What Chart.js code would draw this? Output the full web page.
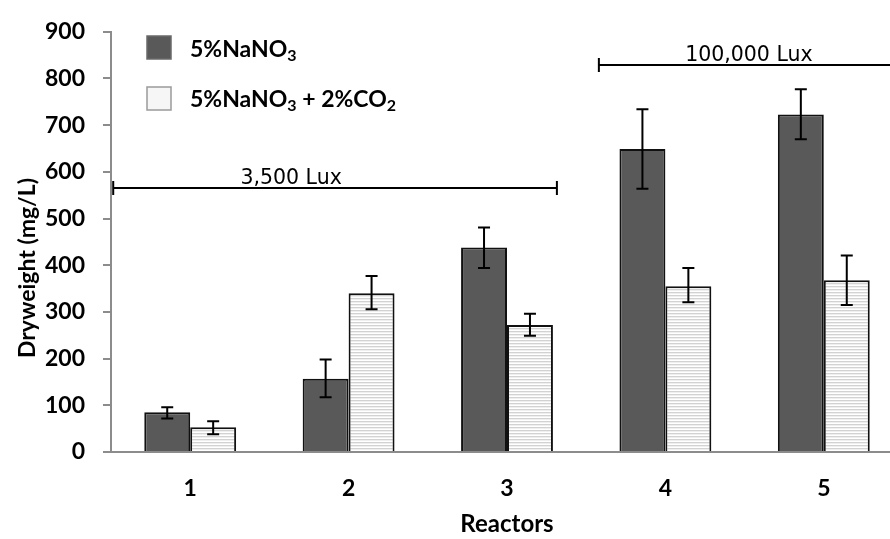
<!DOCTYPE html>
<html>
<head>
<meta charset="utf-8">
<script src="https://cdn.jsdelivr.net/npm/chart.js@4/dist/chart.umd.min.js"></script>
<style>
  html, body { margin: 0; padding: 0; background: #fff; overflow: hidden; }
  #wrap { position: relative; width: 910px; height: 539px; }
</style>
</head>
<body>
<div id="wrap"><canvas id="chart"></canvas></div>
<script>
// data
const reactors = ['1', '2', '3', '4', '5'];
const nano3 = [85, 157, 438, 649, 723];
const nano3Low = [72, 117, 394, 564, 670];
const nano3High = [96, 198, 481, 734, 777];
const nanoCo2 = [53, 340, 272, 355, 368];
const nanoCo2Low = [38, 306, 249, 321, 315];
const nanoCo2High = [66, 377, 296, 394, 421];
const yTicks = [0, 100, 200, 300, 400, 500, 600, 700, 800, 900];

// light intensity brackets (x in category index units, y in mg/L)
const luxLabels = ['3,500 Lux', '100,000 Lux'];
const luxFrom = [-0.486, 2.58];
const luxTo = [2.315, 5.3];
const luxLevel = [566, 828];
const luxTextAt = [0.637, 3.527];

const DARK = '#595959';

function stripePattern() {
    const c = document.createElement('canvas');
    c.width = 4; c.height = 3;
    const g = c.getContext('2d');
    g.fillStyle = '#ffffff'; g.fillRect(0, 0, 4, 3);
    g.fillStyle = '#d2d2d2'; g.fillRect(0, 1, 4, 1);
    g.fillStyle = '#efefef'; g.fillRect(0, 2, 4, 1);
    return g.createPattern(c, 'repeat');
}
const LIGHT = stripePattern();

const errorBars = {
    id: 'errorBars',
    afterDatasetsDraw(chart) {
        const ctx = chart.ctx, y = chart.scales.y;
        const ranges = [[nano3Low, nano3High], [nanoCo2Low, nanoCo2High]];
        ctx.save();
        ctx.strokeStyle = '#000'; ctx.lineWidth = 2;
        ranges.forEach((r, di) => {
            chart.getDatasetMeta(di).data.forEach((bar, i) => {
                const x = bar.x, y1 = y.getPixelForValue(r[0][i]), y2 = y.getPixelForValue(r[1][i]);
                ctx.beginPath();
                ctx.moveTo(x, y1); ctx.lineTo(x, y2);
                ctx.moveTo(x - 6, y1); ctx.lineTo(x + 6, y1);
                ctx.moveTo(x - 6, y2); ctx.lineTo(x + 6, y2);
                ctx.stroke();
            });
        });
        ctx.restore();
    }
};

const extras = {
    id: 'extras',
    afterDraw(chart) {
        const ctx = chart.ctx, xs = chart.scales.x, ys = chart.scales.y;
        const px = v => xs.getPixelForValue(0) + v * (xs.getPixelForValue(1) - xs.getPixelForValue(0));
        ctx.save();
        // lux brackets
        ctx.strokeStyle = '#000'; ctx.lineWidth = 2; ctx.fillStyle = '#000';
        ctx.font = '20.5px "DejaVu Sans"'; ctx.textAlign = 'center'; ctx.textBaseline = 'alphabetic';
        luxLabels.forEach((lab, i) => {
            const yy = Math.round(ys.getPixelForValue(luxLevel[i]));
            const a = px(luxFrom[i]), b = px(luxTo[i]);
            ctx.beginPath();
            ctx.moveTo(a, yy); ctx.lineTo(b, yy);
            ctx.moveTo(a, yy - 7); ctx.lineTo(a, yy + 7);
            ctx.moveTo(b, yy - 7); ctx.lineTo(b, yy + 7);
            ctx.stroke();
            ctx.fillText(lab, px(luxTextAt[i]), yy - 4);
        });
        // legend
        const boxes = [DARK, '#f6f6f6'];
        const tops = [36, 87];
        boxes.forEach((f, i) => {
            ctx.fillStyle = f; ctx.fillRect(147, tops[i], 24, 23);
            ctx.strokeStyle = i === 0 ? '#6a6a6a' : '#9a9a9a'; ctx.lineWidth = 1.5;
            ctx.strokeRect(147, tops[i], 24, 23);
        });
        const parts = [
            [['5%NaNO', 0], ['3', 1]],
            [['5%NaNO', 0], ['3', 1], [' + 2%CO', 0], ['2', 1]]
        ];
        const base = [57, 107];
        ctx.fillStyle = '#000'; ctx.textAlign = 'left';
        parts.forEach((line, i) => {
            let x = 190;
            line.forEach(([t, sub]) => {
                ctx.font = sub ? 'bold 16px Lato' : 'bold 23px Lato';
                ctx.fillText(t, x, base[i] + (sub ? 4 : 0));
                x += ctx.measureText(t).width;
            });
        });
        // y title
        ctx.font = 'bold 23px Lato';
        ctx.textAlign = 'center'; ctx.textBaseline = 'middle';
        ctx.translate(28, 268); ctx.rotate(-Math.PI / 2);
        ctx.fillText('Dryweight (mg/L)', 0, 0);
        ctx.restore();
    }
};

new Chart(document.getElementById('chart'), {
    type: 'bar',
    data: {
        labels: reactors,
        datasets: [
            { label: '5%NaNO3', data: nano3, backgroundColor: DARK, borderColor: '#111', borderWidth: 2,
              categoryPercentage: 0.58, barPercentage: 1 },
            { label: '5%NaNO3 + 2%CO2', data: nanoCo2, backgroundColor: LIGHT, borderColor: '#111', borderWidth: 2,
              categoryPercentage: 0.58, barPercentage: 1 }
        ]
    },
    options: {
        responsive: true, maintainAspectRatio: false, animation: false,
        layout: { padding: { left: 0, right: 7, top: 29, bottom: 0 } },
        plugins: { legend: { display: false }, tooltip: { enabled: false } },
        scales: {
            x: {
                grid: { display: false, drawTicks: false },
                border: { color: '#8c8c8c', width: 2 },
                ticks: { color: '#000', font: { family: 'Lato', weight: 'bold', size: 23 }, padding: 23 },
                title: { display: true, text: 'Reactors', color: '#000',
                         font: { family: 'Lato', weight: 'bold', size: 24 }, padding: { top: 0, bottom: 0 } },
                afterFit: s => { s.height = 87; }
            },
            y: {
                min: 0, max: 900,
                afterBuildTicks: s => { s.ticks = yTicks.map(v => ({ value: v })); },
                grid: { drawOnChartArea: false, drawTicks: true, tickLength: 8, color: '#8c8c8c', lineWidth: 2 },
                border: { color: '#8c8c8c', width: 2 },
                ticks: { color: '#000', font: { family: 'Lato', weight: 'bold', size: 23 }, padding: 18 },
                afterFit: s => { s.width = 111; }
            }
        }
    },
    plugins: [errorBars, extras]
});
</script>
</body>
</html>
